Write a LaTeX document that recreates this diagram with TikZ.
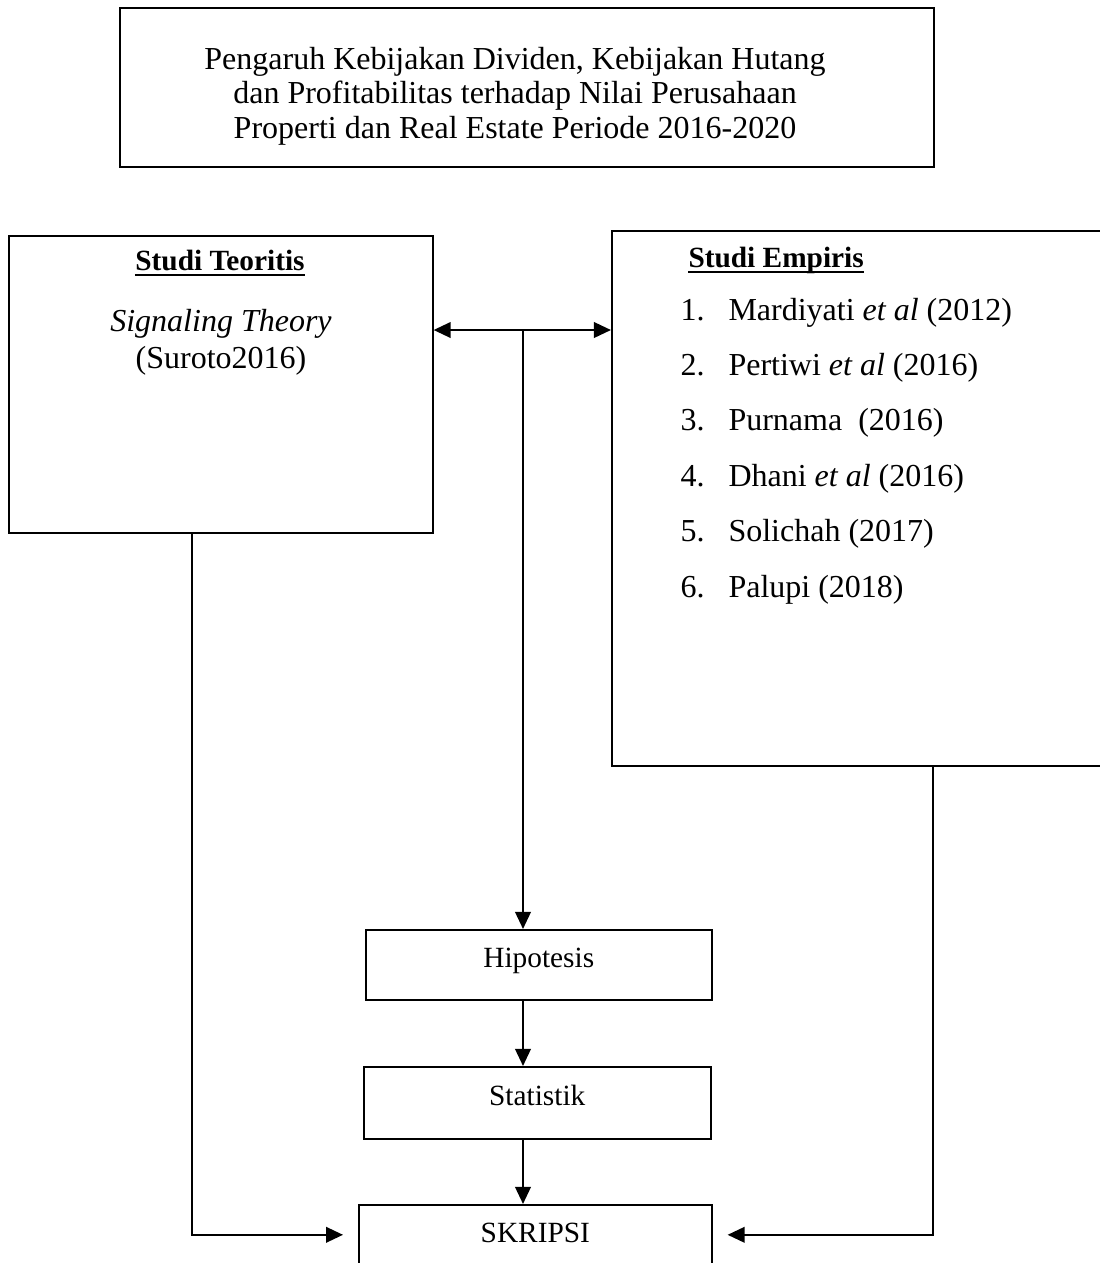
\documentclass[tikz,border=0pt]{standalone}
\usepackage{fontspec}
\setmainfont{Liberation Serif}
\usetikzlibrary{arrows.meta}
\tikzset{
  kotak/.style={draw, line width=0.6pt, inner sep=0pt, anchor=north west},
  kotakkecil/.style={kotak, font=\fontsize{11}{13}\selectfont, text height=0.6em, text depth=0.4em},
  teks/.style={inner sep=0pt, font=\fontsize{12}{14}\selectfont},
  tekskecil/.style={inner sep=0pt, font=\fontsize{11}{13}\selectfont\bfseries},
  garisbawah/.style={line width=0.9pt},
  garis/.style={line width=0.9pt},
  panah/.style={garis, -{Triangle[length=6.4pt,width=5.8pt]}}
}
\begin{document}
\begin{tikzpicture}[x=0.375pt, y=-0.375pt]
\useasboundingbox (0,0) rectangle (1100,1263);
\node[kotak, minimum width=305.25pt, minimum height=59.6pt] (judul) at (119,7) {};
\foreach \baris [count=\i] in {{Pengaruh Kebijakan Dividen, Kebijakan Hutang},
  {dan Profitabilitas terhadap Nilai Perusahaan},
  {Properti dan Real Estate Periode 2016-2020}}
  \node[teks, anchor=base] (judul\i) at (515, {69+34.5*(\i-1)}) {\baris};
\node[kotak, minimum width=159pt, minimum height=111.4pt] (teori) at (8,235) {};
\node[tekskecil, anchor=base] (teorijudul) at (220,270) {Studi Teoritis};
\draw[garisbawah] ([yshift=-1.8pt]teorijudul.base west) -- ([yshift=-1.8pt]teorijudul.base east);
\node[teks, anchor=base] (teori1) at (221,331) {\itshape Signaling Theory};
\node[teks, anchor=base] (teori2) at (221,368) {(Suroto2016)};
\node[kotak, minimum width=189pt, minimum height=200.6pt] (empiris) at (611,230) {};
\node[tekskecil, anchor=base west] (empirisjudul) at (688,267) {Studi Empiris};
\draw[garisbawah] ([yshift=-1.8pt]empirisjudul.base west) -- ([yshift=-1.8pt]empirisjudul.base east);
\foreach \teksitem [count=\i] in {{Mardiyati \textit{et al} (2012)},
  {Pertiwi \textit{et al} (2016)},
  {Purnama \ (2016)},
  {Dhani \textit{et al} (2016)},
  {Solichah (2017)},
  {Palupi (2018)}}
{
  \node[teks, anchor=base west] (no\i) at (680, {320+55.4*(\i-1)}) {\i.};
  \node[teks, anchor=base west] (ref\i) at (728, {320+55.4*(\i-1)}) {\teksitem};
}
\node[kotakkecil, minimum width=129.75pt, minimum height=26.25pt] (hipotesis) at (365,929) {Hipotesis};
\node[kotakkecil, minimum width=130.1pt, minimum height=27pt] (statistik) at (363,1066) {Statistik};
\node[kotakkecil, minimum width=132.4pt, minimum height=26.25pt] (skripsi) at (358,1204) {SKRIPSI};
\coordinate (cabang) at (523,330);
\coordinate (kiri) at (192,0);
\coordinate (kanan) at (933,0);
\draw[garis, {Triangle[length=6.4pt,width=5.8pt]}-{Triangle[length=6.4pt,width=5.8pt]}] (cabang -| teori.east) -- (cabang -| empiris.west);
\draw[panah] (cabang) -- (cabang |- hipotesis.north);
\draw[panah] (hipotesis.south -| cabang) -- (statistik.north -| cabang);
\draw[panah] (statistik.south -| cabang) -- (skripsi.north -| cabang);
\draw[panah, shorten >=5.6pt] (teori.south -| kiri) |- ([yshift=1.875pt]skripsi.west);
\draw[panah, shorten >=5.6pt] (empiris.south -| kanan) |- ([yshift=1.875pt]skripsi.east);
\end{tikzpicture}
\end{document}
